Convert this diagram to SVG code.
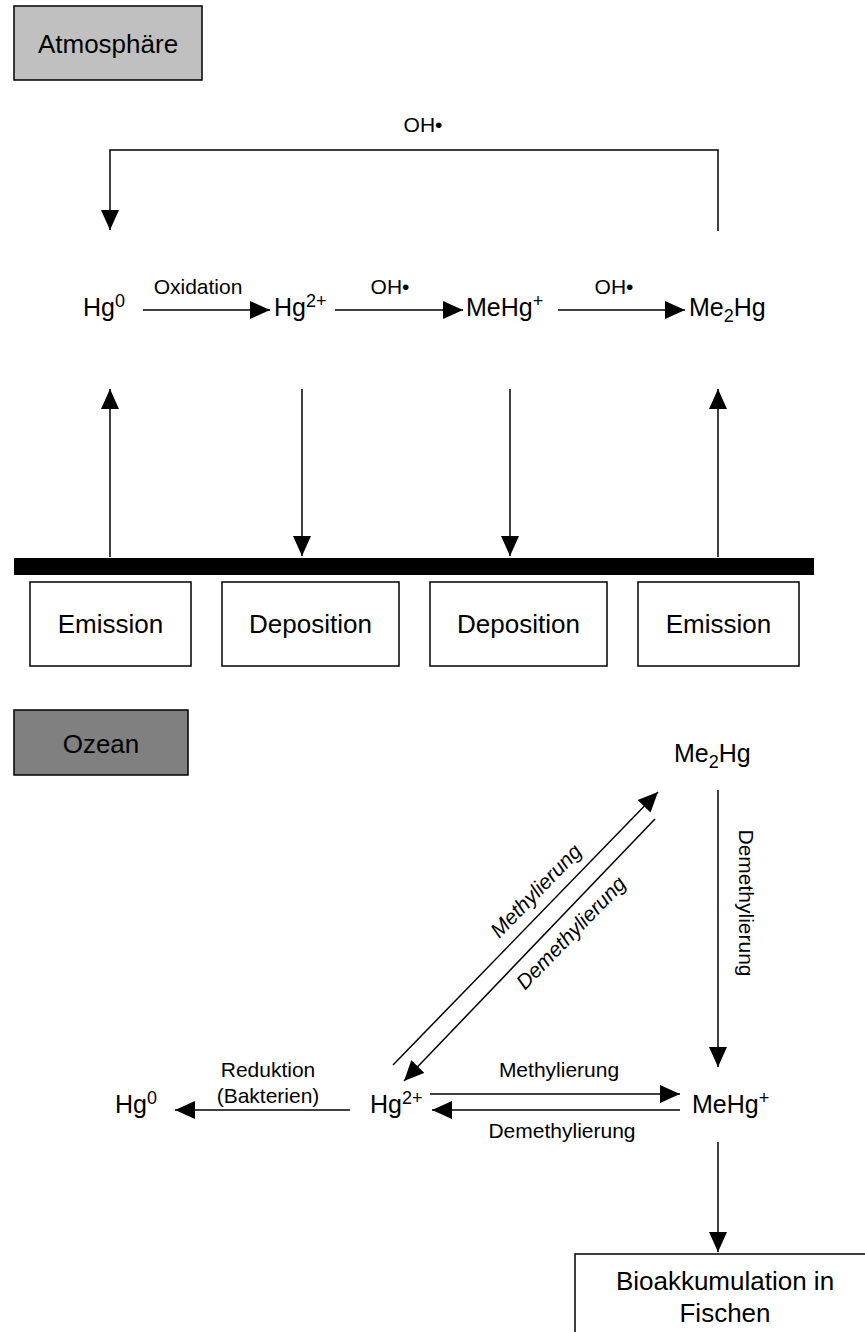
<svg xmlns="http://www.w3.org/2000/svg" width="865" height="1332" viewBox="0 0 865 1332">
<style>
text{font-family:"Liberation Sans",Arial,sans-serif;fill:#000}
.big{font-size:26px}
.sp{font-size:25px}
.sm{font-size:21px}
.sup{font-size:18px}
.box{fill:#fff;stroke:#000;stroke-width:1.5}
.ln{fill:none;stroke:#000;stroke-width:1.5}
.ar{fill:none;stroke:#000;stroke-width:1.5;marker-end:url(#ah)}
</style>
<defs>
<marker id="ah" viewBox="0 0 20 18" refX="20" refY="9" markerWidth="20" markerHeight="19" markerUnits="userSpaceOnUse" orient="auto">
<path d="M0,0 L20,9 L0,18 Z" fill="#000"/>
</marker>
</defs>

<g id="atmosphaere">
<rect x="14" y="6" width="188" height="74" fill="#c0c0c0" stroke="#000" stroke-width="1.5"/>
<text class="big" x="108" y="53" text-anchor="middle">Atmosphäre</text>
</g>

<g id="ozean">
<rect x="14" y="710" width="174" height="65" fill="#808080" stroke="#000" stroke-width="1.5"/>
<text class="big" x="101" y="753" text-anchor="middle">Ozean</text>
</g>

<g id="surface">
<rect x="14" y="558" width="800" height="17" fill="#000"/>
</g>

<g id="emission1"><rect class="box" x="30" y="582" width="161" height="84"/><text class="big" x="110.5" y="633" text-anchor="middle">Emission</text></g>
<g id="deposition1"><rect class="box" x="222" y="582" width="177" height="84"/><text class="big" x="310.5" y="633" text-anchor="middle">Deposition</text></g>
<g id="deposition2"><rect class="box" x="430" y="582" width="177" height="84"/><text class="big" x="518.5" y="633" text-anchor="middle">Deposition</text></g>
<g id="emission2"><rect class="box" x="638" y="582" width="161" height="84"/><text class="big" x="718.5" y="633" text-anchor="middle">Emission</text></g>

<g id="atm-hg0"><text class="sp" x="83" y="316">Hg<tspan class="sup" dy="-9">0</tspan></text></g>
<g id="atm-hg2"><text class="sp" x="274" y="316">Hg<tspan class="sup" dy="-9">2+</tspan></text></g>
<g id="atm-mehg"><text class="sp" x="466" y="316">MeHg<tspan class="sup" dy="-9">+</tspan></text></g>
<g id="atm-me2hg"><text class="sp" x="689" y="316">Me<tspan class="sup" dy="6">2</tspan><tspan dy="-6">Hg</tspan></text></g>

<g id="oc-me2hg"><text class="sp" x="674" y="762">Me<tspan class="sup" dy="6">2</tspan><tspan dy="-6">Hg</tspan></text></g>
<g id="oc-hg0"><text class="sp" x="115" y="1113">Hg<tspan class="sup" dy="-9">0</tspan></text></g>
<g id="oc-hg2"><text class="sp" x="370" y="1113">Hg<tspan class="sup" dy="-9">2+</tspan></text></g>
<g id="oc-mehg"><text class="sp" x="692" y="1113">MeHg<tspan class="sup" dy="-9">+</tspan></text></g>

<g id="bioakkumulation">
<rect class="box" x="575" y="1254" width="300" height="100"/>
<text class="big" x="725" y="1290" text-anchor="middle">Bioakkumulation in</text>
<text class="big" x="725" y="1322" text-anchor="middle">Fischen</text>
</g>

<g id="connectors">
<polyline class="ar" points="718,231 718,150 110,150 110,230"/>
<line class="ar" x1="143" y1="310" x2="270" y2="310"/>
<line class="ar" x1="335" y1="310" x2="463" y2="310"/>
<line class="ar" x1="558" y1="310" x2="685" y2="310"/>
<line class="ar" x1="110" y1="557" x2="110" y2="389"/>
<line class="ar" x1="302" y1="389" x2="302" y2="556"/>
<line class="ar" x1="510" y1="389" x2="510" y2="556"/>
<line class="ar" x1="718" y1="557" x2="718" y2="389"/>
<line class="ar" x1="718" y1="790" x2="718" y2="1067"/>
<line class="ar" x1="393" y1="1065" x2="658" y2="792"/>
<line class="ar" x1="655" y1="819" x2="404" y2="1081"/>
<line class="ar" x1="430" y1="1094" x2="680" y2="1094"/>
<line class="ar" x1="680" y1="1110" x2="432" y2="1110"/>
<line class="ar" x1="350" y1="1110" x2="175" y2="1110"/>
<line class="ar" x1="718" y1="1142" x2="718" y2="1252"/>
<text class="sm" x="423" y="132" text-anchor="middle">OH•</text>
<text class="sm" x="198" y="294" text-anchor="middle">Oxidation</text>
<text class="sm" x="390" y="294" text-anchor="middle">OH•</text>
<text class="sm" x="614" y="294" text-anchor="middle">OH•</text>
<text class="sm" transform="translate(739,903) rotate(90)" x="0" y="0" text-anchor="middle">Demethylierung</text>
<text class="sm" font-style="italic" transform="translate(536,891) rotate(-46)" x="0" y="7" text-anchor="middle">Methylierung</text>
<text class="sm" font-style="italic" transform="translate(571,933) rotate(-46)" x="0" y="7" text-anchor="middle">Demethylierung</text>
<text class="sm" x="268" y="1077" text-anchor="middle">Reduktion</text>
<text class="sm" x="268" y="1103" text-anchor="middle">(Bakterien)</text>
<text class="sm" x="559" y="1077" text-anchor="middle">Methylierung</text>
<text class="sm" x="562" y="1138" text-anchor="middle">Demethylierung</text>
</g>
</svg>
